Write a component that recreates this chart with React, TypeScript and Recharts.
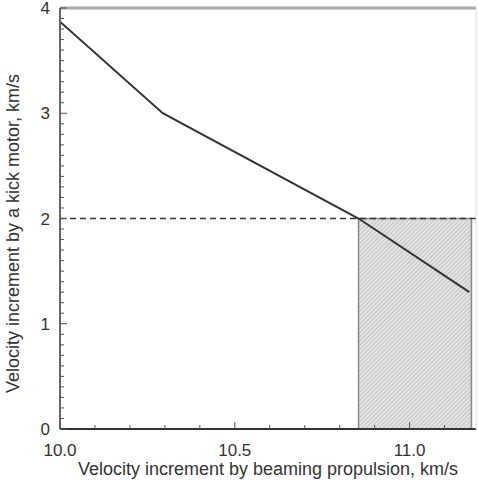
import React from "react";
import {
  ComposedChart,
  Line,
  XAxis,
  YAxis,
  ReferenceArea,
  ReferenceLine,
} from "recharts";

// curve: (beaming dv, kick motor dv)
const beamingDv = [10.0, 10.294, 10.854, 11.171];
const kickDv = [3.87, 3.0, 2.0, 1.3];

const xMinorTicks = [10.0, 10.1, 10.2, 10.3, 10.4, 10.5, 10.6, 10.7, 10.8, 10.9, 11.0, 11.1];
const xMajorTicks = [10.0, 10.5, 11.0];
const yMinorTicks = [
  0, 0.1, 0.2, 0.3, 0.4, 0.5, 0.6, 0.7, 0.8, 0.9, 1, 1.1, 1.2, 1.3, 1.4, 1.5, 1.6, 1.7, 1.8, 1.9, 2,
  2.1, 2.2, 2.3, 2.4, 2.5, 2.6, 2.7, 2.8, 2.9, 3, 3.1, 3.2, 3.3, 3.4, 3.5, 3.6, 3.7, 3.8, 3.9, 4,
];
const yMajorTicks = [0, 1, 2, 3, 4];

const limitDv = 2.0;
const regionStart = 10.854;
const regionEnd = 11.177;

const data = beamingDv.map((x, i) => ({ x, y: kickDv[i] }));

const FONT = "'Liberation Sans', Arial, sans-serif";
const INK = "#333";

const isMajor = (v: number, majors: number[]) =>
  majors.some((m) => Math.abs(m - v) < 1e-6);

// stroke has to go through style, recharts hands the tick stroke="none"
function BottomTick(props: any) {
  const { x, y, payload } = props;
  const major = isMajor(payload.value, xMajorTicks);
  return (
    <g>
      <path d={`M${x},${y}V${y - (major ? 7 : 4)}`} style={{ stroke: "#555", strokeWidth: 1 }} />
      {major && (
        <text x={x} y={y + 27} textAnchor="middle" fontSize={17} fontFamily={FONT} fill={INK}>
          {payload.value.toFixed(1)}
        </text>
      )}
    </g>
  );
}

function TopTick(props: any) {
  const { x, y, payload } = props;
  const major = isMajor(payload.value, xMajorTicks);
  return <path d={`M${x},${y}V${y + (major ? 6 : 4)}`} style={{ stroke: "#777", strokeWidth: 1 }} />;
}

function LeftTick(props: any) {
  const { x, y, payload } = props;
  const major = isMajor(payload.value, yMajorTicks);
  return (
    <g>
      <path d={`M${x},${y}H${x + (major ? 7 : 4)}`} style={{ stroke: "#555", strokeWidth: 1 }} />
      {major && (
        <text x={x - 10} y={y + 6} textAnchor="end" fontSize={17} fontFamily={FONT} fill={INK}>
          {payload.value}
        </text>
      )}
    </g>
  );
}

function RightTick(props: any) {
  const { x, y, payload } = props;
  const major = isMajor(payload.value, yMajorTicks);
  if (!major) return <g />;
  return <path d={`M${x},${y}H${x - 4}`} style={{ stroke: "#aaa", strokeWidth: 1 }} />;
}

export default function App() {
  return (
    <div style={{ position: "absolute", left: 0, top: 0, background: "#fff" }}>
      <ComposedChart
        width={478}
        height={482}
        data={data}
        margin={{ top: 7, right: 0, bottom: 0, left: 0 }}
      >
        <defs>
          <pattern id="hatch" width="3" height="3" patternUnits="userSpaceOnUse" patternTransform="rotate(45)">
            <rect width="3" height="3" fill="#e4e4e4" />
            <line x1="0" y1="0" x2="0" y2="3" stroke="#a0a0a0" strokeWidth="1" />
          </pattern>
        </defs>
        <XAxis
          dataKey="x"
          type="number"
          domain={[10, 11.19]}
          ticks={xMinorTicks}
          interval={0}
          height={53}
          tickSize={0}
          tickMargin={0}
          tickLine={false}
          axisLine={{ stroke: INK, strokeWidth: 2 }}
          tick={<BottomTick />}
          allowDataOverflow
          label={{
            value: "Velocity increment by beaming propulsion, km/s",
            position: "insideBottom",
            offset: 7,
            fontSize: 18,
            fontFamily: FONT,
            fill: INK,
          }}
        />
        <XAxis
          xAxisId="top"
          orientation="top"
          type="number"
          domain={[10, 11.19]}
          ticks={xMinorTicks}
          interval={0}
          height={1}
          tickSize={0}
          tickMargin={0}
          tickLine={false}
          axisLine={false}
          tick={<TopTick />}
          allowDataOverflow
        />
        <YAxis
          type="number"
          domain={[0, 4]}
          ticks={yMinorTicks}
          interval={0}
          width={60}
          tickSize={0}
          tickMargin={0}
          tickLine={false}
          axisLine={{ stroke: "#666", strokeWidth: 2 }}
          tick={<LeftTick />}
          label={{
            value: "Velocity increment by a kick motor, km/s",
            angle: -90,
            position: "insideLeft",
            offset: 0,
            dx: 13,
            dy: 15,
            fontSize: 18,
            fontFamily: FONT,
            fill: INK,
            textAnchor: "middle",
          }}
        />
        <YAxis
          yAxisId="right"
          orientation="right"
          type="number"
          domain={[0, 4]}
          ticks={yMajorTicks}
          interval={0}
          width={2}
          tickSize={0}
          tickMargin={0}
          tickLine={false}
          axisLine={{ stroke: "#ddd", strokeWidth: 1 }}
          tick={<RightTick />}
        />
        <ReferenceLine y={4} stroke="#aaa" strokeWidth={3} ifOverflow="visible" />
        <ReferenceArea
          x1={regionStart}
          x2={regionEnd}
          y1={0}
          y2={limitDv}
          fill="url(#hatch)"
          fillOpacity={1}
          stroke="#888"
          strokeWidth={1.5}
          ifOverflow="visible"
        />
        <ReferenceLine
          y={limitDv}
          stroke={INK}
          strokeWidth={1.5}
          strokeDasharray="6 4"
        />
        <Line
          dataKey="y"
          type="linear"
          stroke={INK}
          strokeWidth={2}
          dot={false}
          isAnimationActive={false}
        />
      </ComposedChart>
    </div>
  );
}
